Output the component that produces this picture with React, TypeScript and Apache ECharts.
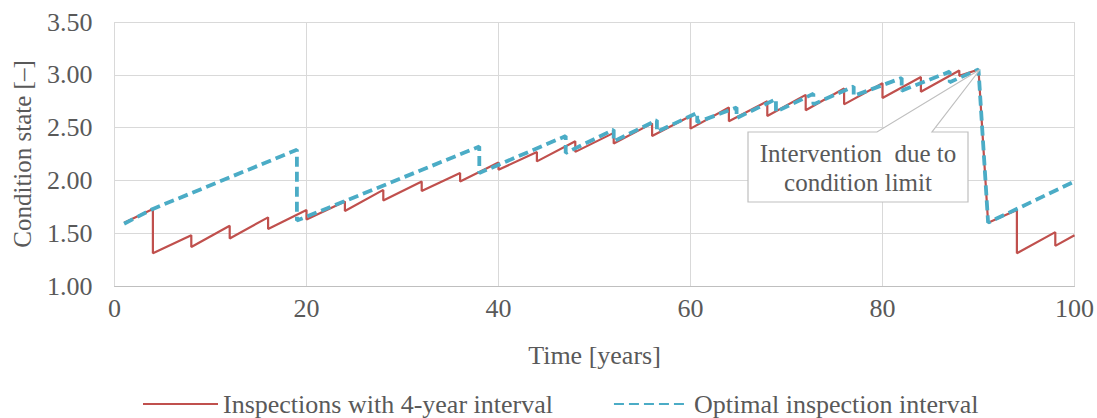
import React, { useEffect, useRef } from "react";
import * as echarts from "echarts";

// Inspections with 4-year interval (x = year, y = condition state)
const redYears = [1, 4, 4, 8, 8, 12, 12, 16, 16, 20, 20, 24, 24, 28, 28, 32, 32, 36, 36, 40, 40, 44, 44, 48, 48, 52, 52, 56, 56, 60, 60, 64, 64, 68, 68, 72, 72, 76, 76, 80, 80, 84, 84, 88, 88, 90, 91, 94, 94, 98, 98, 100];
const redValues = [1.60, 1.73, 1.31, 1.48, 1.37, 1.57, 1.45, 1.65, 1.54, 1.72, 1.63, 1.80, 1.71, 1.91, 1.81, 1.99, 1.90, 2.07, 1.99, 2.17, 2.10, 2.27, 2.18, 2.37, 2.27, 2.45, 2.35, 2.54, 2.42, 2.61, 2.49, 2.69, 2.56, 2.75, 2.61, 2.81, 2.665, 2.87, 2.72, 2.92, 2.78, 2.98, 2.84, 3.04, 2.99, 3.05, 1.60, 1.72, 1.31, 1.51, 1.38, 1.48];

// Optimal inspection interval
const blueYears = [1, 4, 19, 19, 38, 38, 47, 47, 52, 52, 56.5, 56.5, 60.7, 60.7, 64.8, 64.8, 68.9, 68.9, 72.8, 72.8, 77, 77, 82, 82, 87, 87, 90, 91, 100];
const blueValues = [1.59, 1.73, 2.29, 1.62, 2.32, 2.07, 2.42, 2.26, 2.48, 2.37, 2.57, 2.46, 2.64, 2.55, 2.69, 2.59, 2.77, 2.65, 2.82, 2.72, 2.89, 2.80, 2.97, 2.85, 3.03, 2.93, 3.05, 1.60, 1.99];

const seriesNames = ["Inspections with 4-year interval", "Optimal inspection interval"];
const calloutLines = ["Intervention  due to", "condition limit"];

const FONT = "'Liberation Serif', 'Times New Roman', serif";
const TXT = "#595959";
const FS = 25;

export default function App() {
  const ref = useRef<HTMLDivElement>(null);
  useEffect(() => {
    if (!ref.current) return;
    const chart = echarts.init(ref.current, undefined, { renderer: "svg" });
    const red = redYears.map((x, i) => [x, redValues[i]]);
    const blue = blueYears.map((x, i) => [x, blueValues[i]]);
    chart.setOption({
      animation: false,
      backgroundColor: "#ffffff",
      grid: { left: 114.5, right: 22, top: 22, bottom: 132 },
      xAxis: {
        type: "value",
        min: 0,
        max: 100,
        interval: 20,
        name: "Time [years]",
        nameLocation: "middle",
        nameGap: 56,
        nameTextStyle: { fontFamily: FONT, fontSize: 26, color: TXT },
        axisLine: { show: true, lineStyle: { color: "#bfbfbf", width: 1 } },
        axisTick: { show: false },
        axisLabel: { fontFamily: FONT, fontSize: 26, color: TXT, margin: 9 },
        splitLine: { show: true, lineStyle: { color: "#d9d9d9", width: 1 } },
      },
      yAxis: {
        type: "value",
        min: 1,
        max: 3.5,
        interval: 0.5,
        name: "Condition state [–]",
        nameLocation: "middle",
        nameGap: 80,
        nameTextStyle: { fontFamily: FONT, fontSize: FS, color: TXT },
        axisLine: { show: false },
        axisTick: { show: false },
        axisLabel: {
          fontFamily: FONT,
          fontSize: 26,
          color: TXT,
          margin: 22,
          formatter: (v: number) => v.toFixed(2),
        },
        splitLine: { show: true, lineStyle: { color: "#d9d9d9", width: 1 } },
      },
      legend: {
        left: 137,
        top: 386,
        itemWidth: 75,
        itemHeight: 14,
        itemGap: 60,
        itemStyle: { opacity: 0 },
        textStyle: { fontFamily: FONT, fontSize: 26, color: TXT, padding: [0, 0, 0, 0] },
        data: seriesNames,
      },
      graphic: [
        {
          type: "polygon",
          z: 50,
          shape: {
            points: [
              [748, 132],
              [877, 132],
              [980, 69.5],
              [932, 132],
              [968, 132],
              [968, 202],
              [748, 202],
            ],
          },
          style: { fill: "#ffffff", stroke: "#bfbfbf", lineWidth: 1.2 },
        },
        {
          type: "text",
          z: 51,
          x: 858,
          y: 153,
          style: {
            text: calloutLines[0],
            fontFamily: FONT,
            fontSize: FS,
            fill: TXT,
            align: "center",
            verticalAlign: "middle",
          },
        },
        {
          type: "text",
          z: 51,
          x: 858,
          y: 182,
          style: {
            text: calloutLines[1],
            fontFamily: FONT,
            fontSize: FS,
            fill: TXT,
            align: "center",
            verticalAlign: "middle",
          },
        },
      ],
      series: [
        {
          name: seriesNames[0],
          type: "line",
          data: red,
          symbol: "none",
          lineStyle: { color: "#c0504d", width: 2.2 },
          itemStyle: { color: "#c0504d" },
          z: 2,
        },
        {
          name: seriesNames[1],
          type: "line",
          data: blue,
          symbol: "none",
          lineStyle: { color: "#4bacc6", width: 3.8, type: [10, 5] },
          itemStyle: { color: "#4bacc6" },
          z: 3,
        },
      ],
    });
    return () => chart.dispose();
  }, []);
  return (
    <div
      ref={ref}
      style={{ position: "fixed", left: 0, top: 0, width: 1097, height: 418 }}
    />
  );
}
